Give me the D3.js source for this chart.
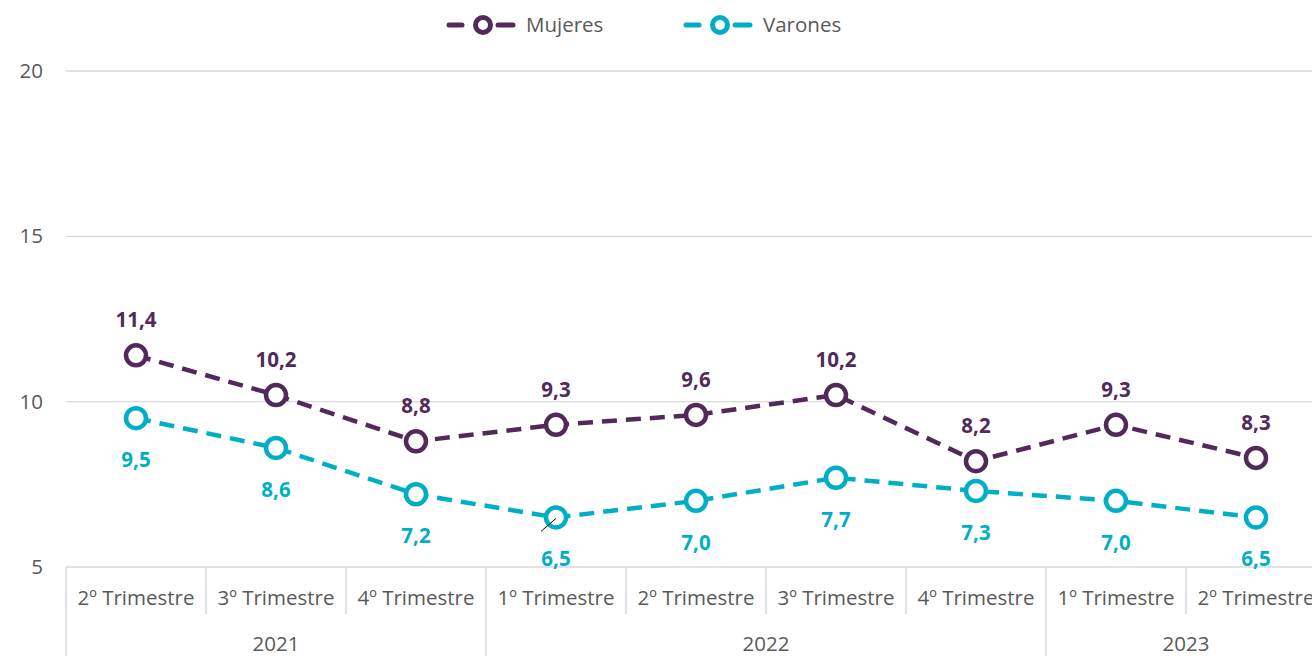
<!DOCTYPE html>
<meta charset="utf-8">
<script src="https://cdn.jsdelivr.net/npm/d3@7"></script>
<style>
  body { margin: 0; background: #fff; }
  .axis text { fill: #595959; font-family: "Open Sans", sans-serif; font-size: 20.5px; }
  .grid line { stroke: #d9d9d9; stroke-width: 1.3; }
  .lbl { font-family: "Open Sans", sans-serif; font-size: 20.5px; font-weight: bold; text-anchor: middle; }
</style>
<body>
<div id="container"></div>
<script>
// ---------- data ----------
const quarters = ["2º Trimestre", "3º Trimestre", "4º Trimestre", "1º Trimestre", "2º Trimestre",
                  "3º Trimestre", "4º Trimestre", "1º Trimestre", "2º Trimestre"];
const years = [{ year: "2021", n: 3 }, { year: "2022", n: 4 }, { year: "2023", n: 2 }];
const mujeres = [11.4, 10.2, 8.8, 9.3, 9.6, 10.2, 8.2, 9.3, 8.3];
const varones = [9.5, 8.6, 7.2, 6.5, 7.0, 7.7, 7.3, 7.0, 6.5];
const yTicks = [5, 10, 15, 20];

const series = [
  { name: "Mujeres", values: mujeres, color: "#512a5a", pos: "above" },
  { name: "Varones", values: varones, color: "#00afc6", pos: "below" }
];

// ---------- svg ----------
const width = 1312, height = 656;
const svg = d3.select("#container").append("svg")
  .attr("width", width).attr("height", height);

const x = d3.scaleBand().domain(d3.range(quarters.length)).range([66, 1326]);
const y = d3.scaleLinear().domain([5, 20]).range([567, 71]);
const cx = i => x(i) + x.bandwidth() / 2;
const edge = i => i < quarters.length ? x(i) : x.range()[1];

// grid
svg.append("g").attr("class", "grid")
  .selectAll("line").data(yTicks.filter(d => d > 5)).enter().append("line")
  .attr("x1", 66).attr("x2", width)
  .attr("y1", d => y(d)).attr("y2", d => y(d));

// y labels
svg.append("g").attr("class", "axis")
  .selectAll("text").data(yTicks).enter().append("text")
  .attr("x", 43).attr("y", d => y(d) + 7)
  .attr("text-anchor", "end")
  .text(d => d);

// x axis baseline
const xa = svg.append("g").attr("class", "axis");
xa.append("line").attr("x1", 66).attr("x2", width)
  .attr("y1", y(5)).attr("y2", y(5))
  .attr("stroke", "#d9d9d9").attr("stroke-width", 1.5);

// year boundaries
let starts = [], acc = 0;
years.forEach(g => { starts.push(acc); acc += g.n; });
const bounds = starts.concat([quarters.length]);

// short separators between quarters
xa.selectAll("line.q").data(d3.range(quarters.length + 1).filter(i => !bounds.includes(i)))
  .enter().append("line").attr("class", "q")
  .attr("x1", edge).attr("x2", edge)
  .attr("y1", y(5)).attr("y2", 614)
  .attr("stroke", "#d9d9d9").attr("stroke-width", 1.5);

// long separators at year bounds
xa.selectAll("line.yb").data(bounds).enter().append("line").attr("class", "yb")
  .attr("x1", edge).attr("x2", edge)
  .attr("y1", y(5)).attr("y2", height)
  .attr("stroke", "#d9d9d9").attr("stroke-width", 1.5);

xa.selectAll("text.q").data(quarters).enter().append("text").attr("class", "q")
  .attr("x", (d, i) => cx(i)).attr("y", 605)
  .attr("text-anchor", "middle").text(d => d);

xa.selectAll("text.yr").data(years).enter().append("text").attr("class", "yr")
  .attr("x", (d, i) => x(starts[i]) + d.n * x.bandwidth() / 2).attr("y", 651)
  .attr("text-anchor", "middle").text(d => d.year);

// ---------- lines ----------
const line = d3.line()
  .x((d, i) => cx(i))
  .y(d => y(d));

series.forEach(s => {
  const g = svg.append("g");
  g.append("path").datum(s.values)
    .attr("d", line)
    .attr("fill", "none")
    .attr("stroke", s.color)
    .attr("stroke-width", 4.5)
    .attr("stroke-dasharray", "15,9");

  g.selectAll("circle").data(s.values).enter().append("circle")
    .attr("cx", (d, i) => cx(i))
    .attr("cy", d => y(d))
    .attr("r", 10)
    .attr("fill", "#fff")
    .attr("stroke", s.color)
    .attr("stroke-width", 4.5);

  g.selectAll("text").data(s.values).enter().append("text")
    .attr("class", "lbl")
    .attr("fill", s.color)
    .attr("x", (d, i) => cx(i))
    .attr("y", d => s.pos === "above" ? y(d) - 28 : y(d) + 49)
    .text(d => d.toFixed(1).replace(".", ","));
});

// small leader line on the 1º Trimestre 2022 varones label
svg.append("line")
  .attr("x1", cx(3) - 15).attr("y1", y(varones[3]) + 14)
  .attr("x2", cx(3)).attr("y2", y(varones[3]) + 1)
  .attr("stroke", "#000").attr("stroke-width", 1);

// ---------- legend ----------
const legX = [483, 720];
series.forEach((s, i) => {
  const lg = svg.append("g").attr("transform", "translate(" + legX[i] + ",25)");
  [[-34, -21], [15, 30]].forEach(seg => {
    lg.append("line").attr("x1", seg[0]).attr("x2", seg[1]).attr("y1", 0).attr("y2", 0)
      .attr("stroke", s.color).attr("stroke-width", 5).attr("stroke-linecap", "round");
  });
  lg.append("circle").attr("r", 7.5).attr("fill", "#fff")
    .attr("stroke", s.color).attr("stroke-width", 5);
  lg.append("text").attr("x", 43).attr("y", 7)
    .attr("fill", "#595959")
    .style("font-family", "'Open Sans', sans-serif").style("font-size", "20.5px")
    .text(s.name);
});
</script>
</body>
